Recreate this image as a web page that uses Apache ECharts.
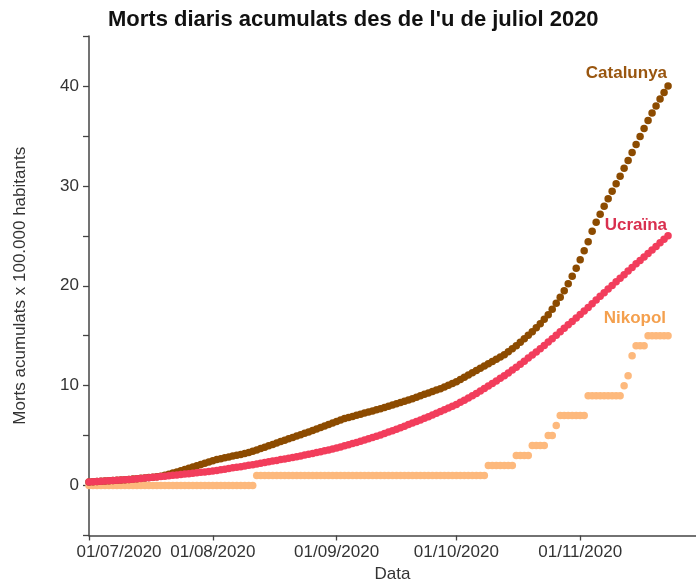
<!DOCTYPE html>
<html>
<head>
<meta charset="utf-8">
<title>Morts diaris acumulats</title>
<script src="https://cdn.jsdelivr.net/npm/echarts@6/dist/echarts.min.js"></script>
<style>
  html, body { margin: 0; padding: 0; background: #fff; }
  #chart { width: 696px; height: 580px; }
</style>
</head>
<body>
<div id="chart"></div>
<script>
// eix X: dies des de l'1/7/2020 fins al 30/11/2020
const axisDays = 153
const monthTicks = ['01/07/2020', '01/08/2020', '01/09/2020', '01/10/2020', '01/11/2020']
const yTickLabels = [0, 10, 20, 30, 40]

// morts acumulades x 100.000 hab., un valor per dia (1/7 – 23/11)
const catalunya = [
  0.35, 0.37, 0.40, 0.42, 0.45, 0.48, 0.50, 0.53, 0.56, 0.58,
  0.61, 0.65, 0.69, 0.72, 0.76, 0.80, 0.84, 0.88, 0.93, 1.03,
  1.14, 1.25, 1.36, 1.48, 1.60, 1.72, 1.85, 1.97, 2.10, 2.22,
  2.35, 2.47, 2.60, 2.69, 2.78, 2.86, 2.95, 3.03, 3.12, 3.21,
  3.30, 3.43, 3.57, 3.70, 3.84, 3.98, 4.12, 4.26, 4.40, 4.54,
  4.68, 4.81, 4.95, 5.09, 5.23, 5.36, 5.50, 5.65, 5.80, 5.95,
  6.10, 6.25, 6.40, 6.55, 6.70, 6.81, 6.92, 7.03, 7.14, 7.25,
  7.36, 7.47, 7.58, 7.69, 7.82, 7.94, 8.07, 8.20, 8.32, 8.45,
  8.57, 8.70, 8.84, 8.98, 9.13, 9.27, 9.41, 9.56, 9.70, 9.87,
  10.05, 10.22, 10.40, 10.62, 10.85, 11.07, 11.30, 11.52, 11.75, 11.97,
  12.20, 12.42, 12.65, 12.87, 13.10, 13.40, 13.70, 14.00, 14.35, 14.70,
  15.05, 15.40, 15.80, 16.20, 16.65, 17.10, 17.65, 18.25, 18.85, 19.50,
  20.20, 20.95, 21.75, 22.60, 23.50, 24.40, 25.45, 26.35, 27.15, 27.95,
  28.70, 29.45, 30.20, 30.95, 31.75, 32.55, 33.35, 34.15, 34.95, 35.75,
  36.55, 37.30, 38.00, 38.70, 39.35, 40.00
]
const ucraina = [
  0.35, 0.37, 0.40, 0.42, 0.45, 0.47, 0.50, 0.52, 0.55, 0.57,
  0.60, 0.64, 0.68, 0.71, 0.75, 0.79, 0.83, 0.86, 0.90, 0.94,
  0.98, 1.02, 1.06, 1.11, 1.15, 1.19, 1.23, 1.28, 1.32, 1.36,
  1.40, 1.45, 1.51, 1.57, 1.64, 1.70, 1.77, 1.83, 1.89, 1.96,
  2.02, 2.09, 2.15, 2.22, 2.30, 2.37, 2.45, 2.52, 2.60, 2.67,
  2.74, 2.82, 2.89, 2.97, 3.05, 3.13, 3.21, 3.30, 3.39, 3.48,
  3.57, 3.66, 3.76, 3.87, 3.98, 4.09, 4.20, 4.32, 4.44, 4.56,
  4.68, 4.81, 4.94, 5.07, 5.21, 5.35, 5.49, 5.64, 5.79, 5.94,
  6.10, 6.26, 6.41, 6.57, 6.73, 6.89, 7.06, 7.23, 7.40, 7.58,
  7.76, 7.94, 8.12, 8.33, 8.54, 8.76, 8.98, 9.22, 9.46, 9.71,
  9.96, 10.21, 10.47, 10.73, 10.99, 11.27, 11.56, 11.85, 12.15, 12.45,
  12.76, 13.07, 13.38, 13.70, 14.03, 14.36, 14.70, 15.04, 15.39, 15.74,
  16.09, 16.43, 16.77, 17.11, 17.47, 17.83, 18.20, 18.57, 18.94, 19.31,
  19.67, 20.03, 20.39, 20.75, 21.11, 21.47, 21.83, 22.19, 22.54, 22.89,
  23.24, 23.59, 23.94, 24.30, 24.65, 25.00
]
const nikopol = [
  0, 0, 0, 0, 0, 0, 0, 0, 0, 0,
  0, 0, 0, 0, 0, 0, 0, 0, 0, 0,
  0, 0, 0, 0, 0, 0, 0, 0, 0, 0,
  0, 0, 0, 0, 0, 0, 0, 0, 0, 0,
  0, 0, 1, 1, 1, 1, 1, 1, 1, 1,
  1, 1, 1, 1, 1, 1, 1, 1, 1, 1,
  1, 1, 1, 1, 1, 1, 1, 1, 1, 1,
  1, 1, 1, 1, 1, 1, 1, 1, 1, 1,
  1, 1, 1, 1, 1, 1, 1, 1, 1, 1,
  1, 1, 1, 1, 1, 1, 1, 1, 1, 1,
  2, 2, 2, 2, 2, 2, 2, 3, 3, 3,
  3, 4, 4, 4, 4, 5, 5, 6, 7, 7,
  7, 7, 7, 7, 7, 9, 9, 9, 9, 9,
  9, 9, 9, 9, 10, 11, 13, 14, 14, 14,
  15, 15, 15, 15, 15, 15
]

const FONT = '"Liberation Sans", Arial, sans-serif'
const AXIS_COLOR = '#444'
const TEXT_COLOR = '#333'

function pad(n) { return n < 10 ? '0' + n : String(n) }

const dates = []
for (let i = 0; i < axisDays; i++) {
  const d = new Date(2020, 6, 1 + i)
  dates.push(pad(d.getDate()) + '/' + pad(d.getMonth() + 1) + '/' + d.getFullYear())
}

const isMonthTick = (idx, value) => monthTicks.includes(value)

// etiqueta amb el nom al darrer punt de cada sèrie
function withEndLabel(values, name, color, pos) {
  return values.map((v, i) => i !== values.length - 1 ? v : {
    value: v,
    label: {
      show: true,
      formatter: name,
      position: pos,
      align: 'right',
      verticalAlign: 'middle',
      color: color,
      fontFamily: FONT,
      fontWeight: 'bold',
      fontSize: 17,
    }
  })
}

function dotSeries(name, values, color, labelColor, pos) {
  return {
    name: name,
    type: 'scatter',
    symbol: 'circle',
    symbolSize: 7.5,
    itemStyle: { color: color, opacity: 1 },
    emphasis: { disabled: true },
    silent: true,
    animation: false,
    data: withEndLabel(values, name, labelColor, pos),
  }
}

const chart = echarts.init(document.getElementById('chart'), null, { renderer: 'canvas' })

chart.setOption({
  backgroundColor: '#fff',
  animation: false,
  title: {
    text: "Morts diaris acumulats des de l'u de juliol 2020",
    left: 108,
    top: 9,
    padding: 0,
    textStyle: { fontFamily: FONT, fontSize: 22, fontWeight: 'bold', color: '#111' },
  },
  grid: {
    left: 89, right: 0, top: 36, bottom: 44.5,
    containLabel: false,
    outerBoundsMode: 'none',
  },
  xAxis: {
    type: 'category',
    data: dates,
    boundaryGap: false,
    name: 'Data',
    nameLocation: 'middle',
    nameGap: 28,
    nameTextStyle: { fontFamily: FONT, fontSize: 17, color: TEXT_COLOR },
    axisLine: { onZero: false, lineStyle: { color: AXIS_COLOR, width: 1.5 } },
    axisTick: { interval: isMonthTick, length: 5, lineStyle: { color: AXIS_COLOR, width: 1.3 } },
    axisLabel: {
      interval: isMonthTick,
      margin: 8,
      fontFamily: FONT,
      fontSize: 17,
      color: TEXT_COLOR,
      // la primera data queda desplaçada cap a dins
      formatter: (v, i) => i === 0 ? '{first|' + v + '}' : v,
      rich: { first: { padding: [0, 0, 0, 60], fontFamily: FONT, fontSize: 17, color: TEXT_COLOR } },
    },
    splitLine: { show: false },
  },
  yAxis: {
    type: 'value',
    min: -5,
    max: 45,
    interval: 5,
    name: 'Morts acumulats x 100.000 habitants',
    nameLocation: 'middle',
    nameGap: 60,
    nameTextStyle: { fontFamily: FONT, fontSize: 17, color: TEXT_COLOR },
    axisLine: { show: true, lineStyle: { color: AXIS_COLOR, width: 1.5 } },
    axisTick: { show: true, length: 6, lineStyle: { color: AXIS_COLOR, width: 1.3 } },
    axisLabel: {
      margin: 10,
      fontFamily: FONT,
      fontSize: 17,
      color: TEXT_COLOR,
      formatter: v => yTickLabels.includes(v) ? String(v) : '',
    },
    splitLine: { show: false },
  },
  series: [
    dotSeries('Nikopol', nikopol, '#fdb97d', '#f4a04e', [1.75, -13.25]),
    dotSeries('Catalunya', catalunya, '#8c4b00', '#99560f', [2.75, -9.25]),
    dotSeries('Ucraïna', ucraina, '#f23d5c', '#d9304f', [2.75, -7]),
  ],
})
</script>
</body>
</html>
